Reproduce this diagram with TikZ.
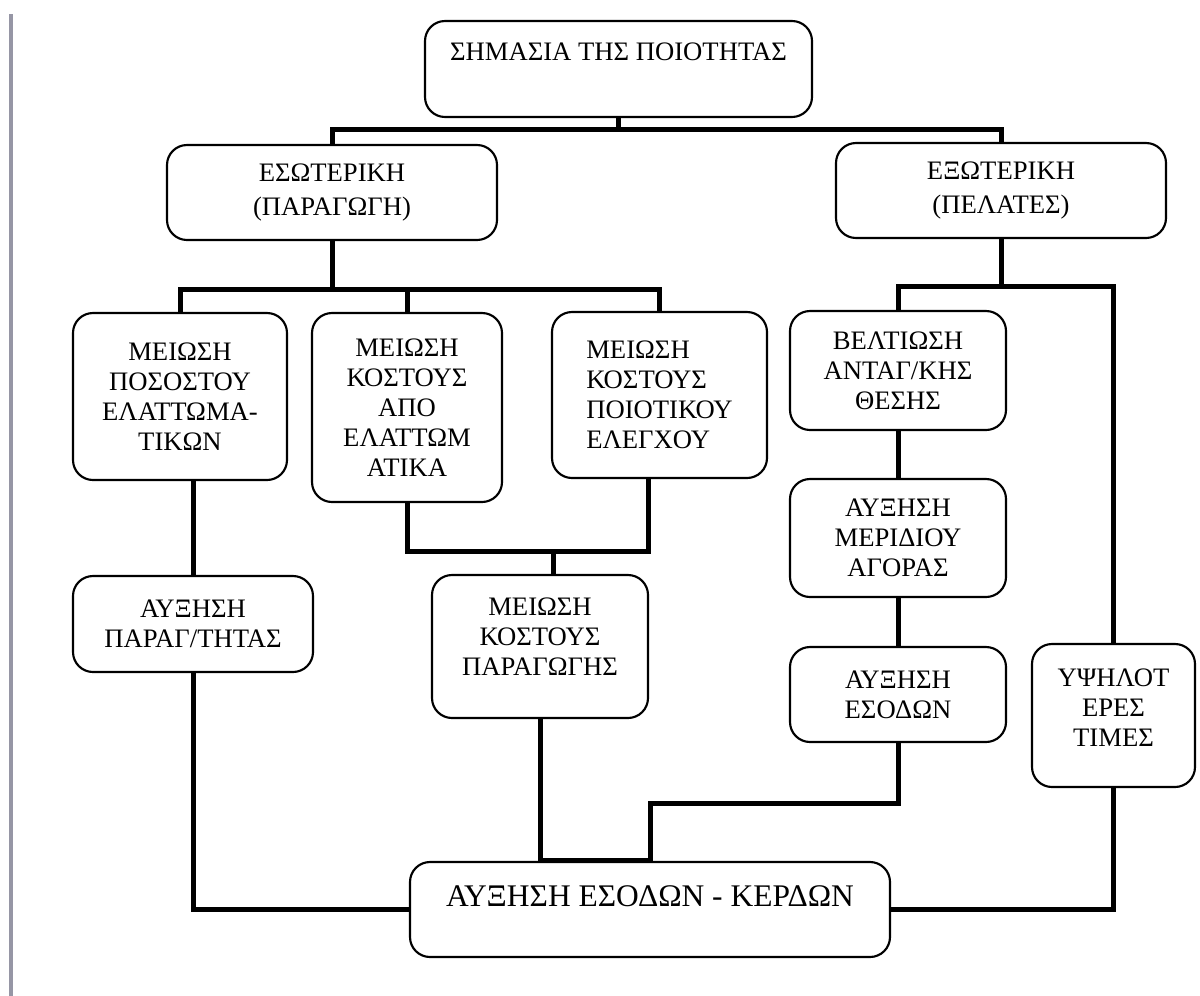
\documentclass[tikz,border=0pt]{standalone}
\usepackage{fontspec}
\setmainfont{Liberation Serif}
\usetikzlibrary{calc}

\newcommand{\lowstrut}[1]{\rule[-#1]{0pt}{#1}}

\tikzset{every picture/.style={line width=0.75pt}}
\tikzset{
  box/.style={draw, fill=white, line width=1.6pt, rounded corners=15pt, align=center, inner sep=0pt, font=\fontsize{20}{22.5}\selectfont},
  conn/.style={line width=3.75pt}
}

\begin{document}
\begin{tikzpicture}[x=0.75pt,y=0.75pt,yscale=-1,xscale=1]
\useasboundingbox (0,0) rectangle (1200,996);

%Straight Lines (scan edge)
\draw [line width=2.5pt, color={rgb, 255:red, 150; green, 150; blue, 165 }] (11,14) -- (11,996) ;

% Text Node
\node [box, minimum width=290.25pt, minimum height=72pt] (imp) at (618.5,69) {ΣΗΜΑΣΙΑ ΤΗΣ ΠΟΙΟΤΗΤΑΣ\lowstrut{25.5pt}};
% Text Node
\node [box, minimum width=247.5pt, minimum height=71.25pt, font=\fontsize{20}{25.5}\selectfont] (inner) at (332,192.5) {ΕΣΩΤΕΡΙΚΗ\\(ΠΑΡΑΓΩΓΗ)};
% Text Node
\node [box, minimum width=247.5pt, minimum height=71.25pt, font=\fontsize{20}{25.5}\selectfont] (outer) at (1001,190.5) {ΕΞΩΤΕΡΙΚΗ\\(ΠΕΛΑΤΕΣ)};
% Text Node
\node [box, minimum width=160.5pt, minimum height=125.25pt] (defrate) at (180,396.5) {ΜΕΙΩΣΗ\\ΠΟΣΟΣΤΟΥ\\ΕΛΑΤΤΩΜΑ-\\ΤΙΚΩΝ};
% Text Node
\node [box, minimum width=142.5pt, minimum height=141.75pt] (defcost) at (407,407.5) {ΜΕΙΩΣΗ\\ΚΟΣΤΟΥΣ\\ΑΠΟ\\ΕΛΑΤΤΩΜ\\ΑΤΙΚΑ};
% Text Node
\node [box, align=left, minimum width=161.25pt, minimum height=124.5pt] (qccost) at (659.5,395) {ΜΕΙΩΣΗ\\ΚΟΣΤΟΥΣ\\ΠΟΙΟΤΙΚΟΥ\\ΕΛΕΓΧΟΥ};
% Text Node
\node [box, minimum width=162pt, minimum height=89.25pt] (compet) at (898,370.5) {ΒΕΛΤΙΩΣΗ\\ΑΝΤΑΓ/ΚΗΣ\\ΘΕΣΗΣ};
% Text Node
\node [box, minimum width=162pt, minimum height=88.5pt] (share) at (898,538) {ΑΥΞΗΣΗ\\ΜΕΡΙΔΙΟΥ\\ΑΓΟΡΑΣ};
% Text Node
\node [box, minimum width=162pt, minimum height=71.25pt] (revenue) at (898,694.5) {ΑΥΞΗΣΗ\\ΕΣΟΔΩΝ};
% Text Node
\node [box, minimum width=122.25pt, minimum height=107.25pt] (prices) at (1113.5,715.5) {ΥΨΗΛΟΤ\\ΕΡΕΣ\\ΤΙΜΕΣ\lowstrut{12pt}};
% Text Node
\node [box, minimum width=180pt, minimum height=72pt] (product) at (193,624) {ΑΥΞΗΣΗ\\ΠΑΡΑΓ/ΤΗΤΑΣ};
% Text Node
\node [box, minimum width=162pt, minimum height=107.25pt] (prodcost) at (540,646.5) {ΜΕΙΩΣΗ\\ΚΟΣΤΟΥΣ\\ΠΑΡΑΓΩΓΗΣ\lowstrut{15pt}};
% Text Node
\node [box, minimum width=360pt, minimum height=71.25pt, font=\fontsize{23.6}{26}\selectfont] (profit) at (650,909.5) {ΑΥΞΗΣΗ ΕΣΟΔΩΝ - ΚΕΡΔΩΝ\lowstrut{19.5pt}};

%Straight Lines
\draw [conn] (imp.south) -- ++(0,11) -| (inner.north) ;
\draw [conn] (imp.south) -- ++(0,11) -| (outer.north) ;
%Straight Lines
\draw [conn] (inner.south) -- ++(0,48) -| (defrate.north) ;
\draw [conn] (inner.south) -- ++(0,48) -| (defcost.north) ;
\draw [conn] (inner.south) -- ++(0,48) -| (qccost.north) ;
%Straight Lines
\draw [conn] (outer.south) -- ++(0,47) -| (compet.north) ;
\draw [conn] (outer.south) -- ++(0,47) -| (prices.north) ;
\draw [conn] (compet.south) -- (share.north) ;
\draw [conn] (share.south) -- (revenue.north) ;
%Straight Lines
\draw [conn] (product.north) -- (product.north |- defrate.south) ;
\draw [conn] (defcost.south) |- ($(qccost.south)+(-11.5,72)$) -- ($(qccost.south)+(-11.5,0)$) ;
\draw [conn] ($(prodcost.north)+(13,0)$) -- ++(0,-25) ;
%Straight Lines
\draw [conn] (prodcost.south) -- (prodcost.south |- profit.north) ;
\draw [conn] (revenue.south) -- ++(0,60) -| (profit.north) -- (prodcost.south |- profit.north) ;
\draw [conn] (product.south) |- (profit.west) ;
\draw [conn] (prices.south) |- (profit.east) ;

\end{tikzpicture}
\end{document}
